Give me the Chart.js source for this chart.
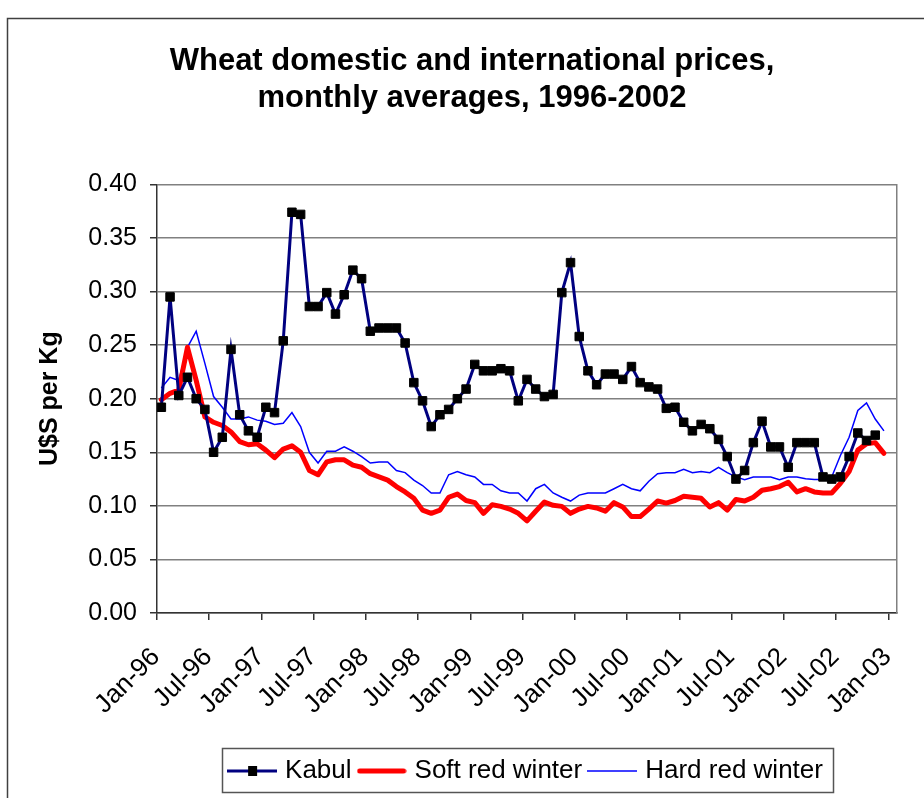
<!DOCTYPE html>
<html>
<head>
<meta charset="utf-8">
<title>Wheat prices</title>
<script src="https://cdn.jsdelivr.net/npm/chart.js@4/dist/chart.umd.min.js"></script>
<style>
	html, body { margin: 0; padding: 0; background: #fff; overflow: hidden; }
	canvas { display: block; }
</style>
</head>
<body>
<canvas id="wheat" width="924" height="798"></canvas>
<script>
// month labels shown every 6 months on the axis (Jan-96 ... Jan-03)
const tickLabels = ["Jan-96", "Jul-96", "Jan-97", "Jul-97", "Jan-98", "Jul-98", "Jan-99", "Jul-99",
	"Jan-00", "Jul-00", "Jan-01", "Jul-01", "Jan-02", "Jul-02", "Jan-03"];
const monthsPerTick = 6;
const monthsOnAxis = 85;

// US$ per kg, monthly, starting Jan-96
const kabul = [
	0.192, 0.295, 0.203, 0.220, 0.200, 0.190, 0.150, 0.164, 0.246, 0.185,
	0.170, 0.164, 0.192, 0.187, 0.254, 0.374, 0.372, 0.286, 0.286, 0.299,
	0.279, 0.297, 0.320, 0.312, 0.263, 0.266, 0.266, 0.266, 0.252, 0.215,
	0.198, 0.174, 0.185, 0.190, 0.200, 0.209, 0.232, 0.226, 0.226, 0.228,
	0.226, 0.198, 0.218, 0.209, 0.202, 0.204, 0.299, 0.327, 0.258, 0.226,
	0.213, 0.223, 0.223, 0.218, 0.230, 0.215, 0.211, 0.209, 0.191, 0.192,
	0.178, 0.170, 0.176, 0.172, 0.162, 0.146, 0.125, 0.133, 0.159, 0.179,
	0.155, 0.155, 0.136, 0.159, 0.159, 0.159, 0.127, 0.125, 0.127, 0.146,
	0.168, 0.161, 0.166,
];

const softRedWinter = [
	0.199, 0.205, 0.208, 0.248, 0.217, 0.183, 0.178, 0.175, 0.169, 0.160,
	0.157, 0.158, 0.152, 0.145, 0.153, 0.156, 0.150, 0.133, 0.129, 0.141,
	0.143, 0.143, 0.138, 0.136, 0.130, 0.127, 0.124, 0.118, 0.113, 0.107,
	0.096, 0.093, 0.096, 0.108, 0.111, 0.105, 0.103, 0.093, 0.101, 0.0995,
	0.097, 0.093, 0.086, 0.095, 0.1035, 0.1005, 0.0995, 0.093, 0.097, 0.0995,
	0.098, 0.095, 0.103, 0.099, 0.090, 0.090, 0.097, 0.1045, 0.1026, 0.105,
	0.109, 0.108, 0.107, 0.099, 0.103, 0.096, 0.106, 0.1045, 0.108, 0.1145,
	0.116, 0.118, 0.122, 0.113, 0.116, 0.113, 0.112, 0.112, 0.121, 0.132,
	0.152, 0.158, 0.159, 0.149,
];

const hardRedWinter = [
	0.210, 0.220, 0.217, 0.248, 0.263, 0.233, 0.202, 0.192, 0.181, 0.181,
	0.183, 0.180, 0.179, 0.176, 0.177, 0.187, 0.174, 0.150, 0.140, 0.151,
	0.151, 0.155, 0.151, 0.146, 0.140, 0.141, 0.141, 0.133, 0.131, 0.124,
	0.119, 0.112, 0.112, 0.129, 0.132, 0.129, 0.127, 0.120, 0.120, 0.114,
	0.112, 0.112, 0.1045, 0.116, 0.120, 0.112, 0.108, 0.1045, 0.110, 0.112,
	0.112, 0.112, 0.116, 0.120, 0.116, 0.114, 0.123, 0.130, 0.131, 0.131,
	0.134, 0.131, 0.132, 0.131, 0.136, 0.131, 0.127, 0.1245, 0.127, 0.127,
	0.127, 0.1245, 0.127, 0.127, 0.1254, 0.1245, 0.1245, 0.127, 0.147, 0.164,
	0.189, 0.196, 0.181, 0.170,
];

const seriesNames = ["Kabul", "Soft red winter", "Hard red winter"];

// each month sits in the middle of its slot, like Excel's "between categories"
function toPoints(values) {
	return values.map((v, i) => ({ x: i + 0.5, y: v }));
}

// ---------------------------------------- Legend symbols ----------------------------------------

function legendSymbol(color, width, marker) {
	const c = document.createElement("canvas");
	c.width = 50;
	c.height = 12;
	const ctx = c.getContext("2d");
	ctx.strokeStyle = color;
	ctx.lineWidth = width;
	ctx.lineCap = width > 3 ? "round" : "butt";
	ctx.beginPath();
	ctx.moveTo(width > 3 ? 3 : 0, 6);
	ctx.lineTo(width > 3 ? 47 : 50, 6);
	ctx.stroke();
	if (marker) {
		ctx.fillStyle = "#000";
		ctx.fillRect(21, 1, 9, 10);
	}
	return c;
}

const symbols = [
	legendSymbol("#000080", 3, true),
	legendSymbol("#ff0000", 5, false),
	legendSymbol("#0000ff", 1.5, false),
];

// ---------------------------------------- Frames ----------------------------------------

const legendLeft = 222;
const legendRight = 833;

const frames = {
	id: "frames",
	afterLayout(chart) {
		// the Excel legend box is not centred on the page
		const lg = chart.legend;
		lg.left = legendLeft;
		lg.right = legendRight;
		lg.width = legendRight - legendLeft;
	},
	beforeDraw(chart) {
		const ctx = chart.ctx;
		ctx.save();
		ctx.strokeStyle = "#404040";
		ctx.lineWidth = 1.5;
		ctx.strokeRect(7.5, 18.5, 1200, 1200);
		ctx.restore();
	},
	afterDraw(chart) {
		const lg = chart.legend;
		const ctx = chart.ctx;
		ctx.save();
		ctx.strokeStyle = "#555";
		ctx.lineWidth = 1.5;
		ctx.strokeRect(lg.left + 0.5, lg.top + 0.5, lg.width, lg.height - 2);
		ctx.restore();
	},
};

// ---------------------------------------- Chart ----------------------------------------

Chart.defaults.font.family = '"Liberation Sans", Arial, sans-serif';
Chart.defaults.color = "#000";

const chartWheat = new Chart(document.getElementById("wheat"), {
	type: "line",
	data: {
		datasets: [
			{
				label: seriesNames[0],
				data: toPoints(kabul),
				borderColor: "#000080",
				borderWidth: 3,
				pointStyle: "rect",
				pointRadius: 6,
				pointBackgroundColor: "#000",
				pointBorderColor: "#000",
				pointBorderWidth: 1,
				tension: 0,
			},
			{
				label: seriesNames[1],
				data: toPoints(softRedWinter),
				borderColor: "#ff0000",
				borderWidth: 5,
				borderJoinStyle: "round",
				borderCapStyle: "round",
				pointRadius: 0,
				tension: 0,
			},
			{
				label: seriesNames[2],
				data: toPoints(hardRedWinter),
				borderColor: "#0000ff",
				borderWidth: 1.5,
				pointRadius: 0,
				tension: 0,
			},
		],
	},
	options: {
		responsive: false,
		animation: false,
		events: [],
		layout: {
			padding: { left: 20, right: 0, top: 0, bottom: 4 },
		},
		plugins: {
			title: {
				display: true,
				text: ["Wheat domestic and international prices,", "monthly averages, 1996-2002"],
				color: "#000",
				font: { size: 31, weight: "bold" },
				padding: { top: 43, bottom: 67 },
			},
			legend: {
				display: true,
				position: "bottom",
				labels: {
					usePointStyle: true,
					pointStyleWidth: 40,
					boxWidth: 40,
					boxHeight: 12,
					padding: 10,
					color: "#000",
					font: { size: 26 },
					generateLabels(chart) {
						const items = Chart.defaults.plugins.legend.labels.generateLabels(chart);
						items.forEach((item, i) => {
							item.pointStyle = symbols[i];
						});
						return items;
					},
				},
			},
			tooltip: { enabled: false },
		},
		scales: {
			x: {
				type: "linear",
				min: 0,
				max: monthsOnAxis,
				afterBuildTicks(scale) {
					scale.ticks = tickLabels.map((t, k) => ({ value: k * monthsPerTick }));
				},
				afterFit(scale) {
					scale.height = 135;
					// rotated labels hang to the left only; keep the plot edges fixed
					scale.paddingLeft = 0;
					scale.paddingRight = 0;
				},
				ticks: {
					autoSkip: false,
					minRotation: 45,
					maxRotation: 45,
					padding: 22,
					labelOffset: -1,
					font: { size: 26 },
					callback: (value, index) => tickLabels[index],
				},
				grid: {
					drawOnChartArea: false,
					tickLength: 7,
					color: "#333",
					lineWidth: 1.5,
				},
				border: { color: "#333", width: 1.5 },
			},
			y: {
				min: 0,
				max: 0.4,
				afterFit(scale) {
					scale.width = 137;
				},
				ticks: {
					stepSize: 0.05,
					padding: 13,
					font: { size: 25 },
					callback: (value) => value.toFixed(2),
				},
				grid: {
					color: "#808080",
					lineWidth: 1.5,
					tickColor: "#333",
					tickLength: 7,
				},
				border: { color: "#333", width: 1.5 },
				title: {
					display: true,
					text: "U$S per Kg",
					font: { size: 25, weight: "bold" },
					padding: { top: 15, bottom: 0 },
				},
			},
			yRight: {
				position: "right",
				display: true,
				min: 0,
				max: 0.4,
				afterFit(scale) {
					scale.width = 27;
				},
				ticks: { display: false },
				grid: { drawOnChartArea: false, drawTicks: false },
				border: { color: "#808080", width: 1.5 },
			},
		},
	},
	plugins: [frames],
});
</script>
</body>
</html>
